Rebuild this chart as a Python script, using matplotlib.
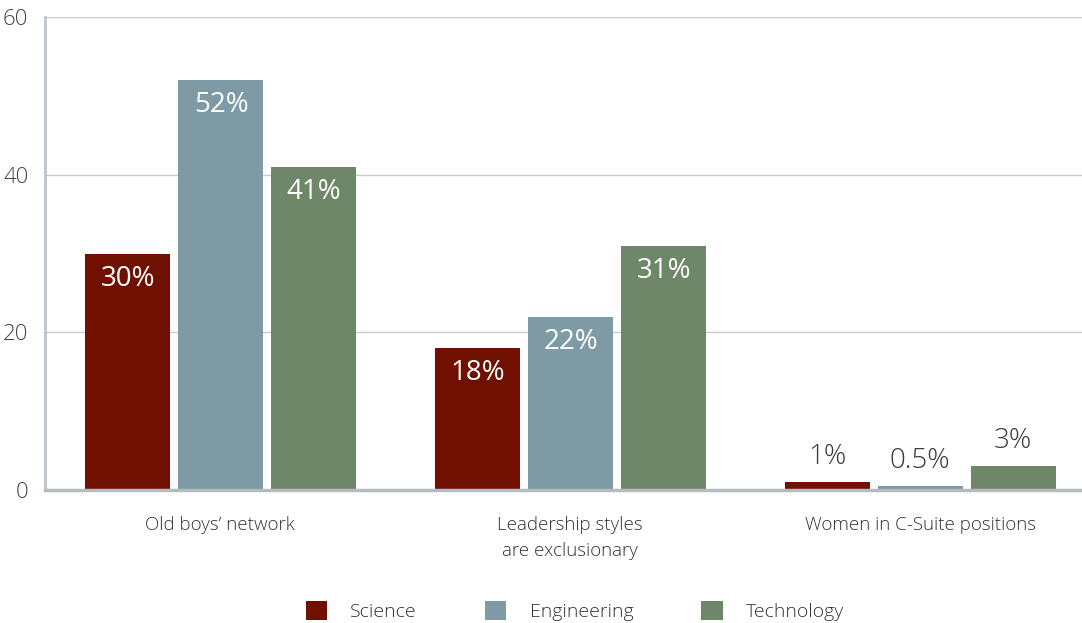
import matplotlib.pyplot as plt
import numpy as np
from matplotlib.patches import Patch

plt.rcParams['font.family'] = ['Open Sans', 'DejaVu Sans']
plt.rcParams['font.weight'] = 'light'

categories = ["Old boys\u2019 network", "Leadership styles\nare exclusionary", "Women in C-Suite positions"]
series = ["Science", "Engineering", "Technology"]
science = [30, 18, 1]
engineering = [52, 22, 0.5]
technology = [41, 31, 3]
labels = [["30%", "18%", "1%"], ["52%", "22%", "0.5%"], ["41%", "31%", "3%"]]

colors = ["#701000", "#7e9ba5", "#6e8769"]

fig = plt.figure(figsize=(10.82, 6.23), dpi=100)
ax = fig.add_axes([45/1082, 1 - 490/623, 1 - 45/1082, (490 - 17)/623])

x = np.arange(len(categories))
width = 85/350
offset = 93/350

for i, (vals, col) in enumerate(zip([science, engineering, technology], colors)):
    pos = x + (i - 1)*offset
    ax.bar(pos, vals, width=width, color=col, zorder=3, label=series[i])
    for p, v, lab in zip(pos, vals, labels[i]):
        if v > 10:
            # value inside the top of tall bars
            ax.annotate(lab, (p, v), xytext=(1, -25), textcoords='offset pixels',
                        ha='center', va='center', color='white', fontsize=20,
                        fontweight='normal', zorder=4)
        else:
            ax.annotate(lab, (p, v), xytext=(0, 25), textcoords='offset pixels',
                        ha='center', va='center', color='#3a3a3a', fontsize=20, zorder=4)

ax.set_xlim(-0.5, 2.5 - 13/350)
ax.set_ylim(0, 60)
ax.set_yticks([0, 20, 40, 60])
ax.yaxis.grid(True, color='#c8cbce', linewidth=1, zorder=0)
ax.set_xticks(x)
ax.set_xticklabels(categories, fontsize=13.5, color='#333333', linespacing=1.55)
ax.tick_params(axis='x', length=0, pad=19)
ax.tick_params(axis='y', length=0, pad=12, labelsize=16, labelcolor='#444444')
for s in ['top', 'right']:
    ax.spines[s].set_visible(False)
ax.spines['left'].set_color('#c0c4c8')
ax.spines['left'].set_linewidth(2)
ax.spines['bottom'].set_color('#b5bcc0')
ax.spines['bottom'].set_linewidth(2.5)
ax.spines['bottom'].set_zorder(5)

handles = [Patch(facecolor=c) for c in colors]
fig.legend(handles, series, loc='center', bbox_to_anchor=(575/1082, 1 - 611/623), ncol=3,
           frameon=False, fontsize=14, handlelength=1.1, handleheight=1.1,
           handletextpad=1.2, columnspacing=3.5, labelcolor='#333333')

fig.savefig('out.png', dpi=100)
